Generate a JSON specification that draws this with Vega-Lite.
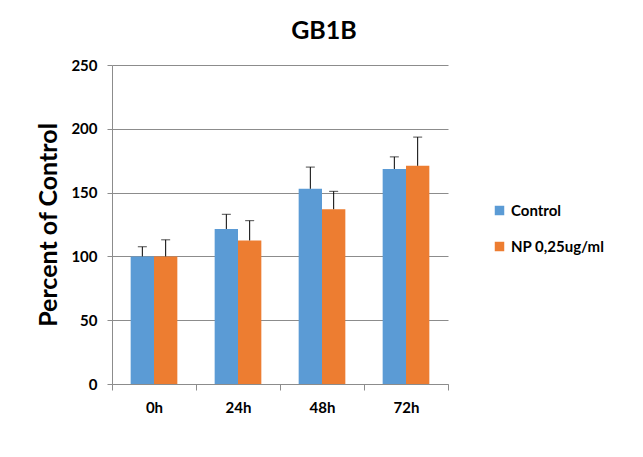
{
  "$schema": "https://vega.github.io/schema/vega-lite/v6.json",
  "width": 336,
  "height": 319,
  "autosize": {"type": "none"},
  "padding": {"left": 112, "top": 65, "right": 195, "bottom": 73},
  "background": "white",
  "title": {
    "text": "GB1B",
    "font": "Lato",
    "fontSize": 25,
    "fontWeight": "bold",
    "color": "#000000",
    "anchor": "middle",
    "dx": 44,
    "offset": 14
  },
  "data": {
    "values": [
      {"time": "0h", "group": "Control", "value": 100, "upper": 107.5},
      {"time": "0h", "group": "NP 0,25ug/ml", "value": 100, "upper": 113},
      {"time": "24h", "group": "Control", "value": 121.5, "upper": 133},
      {"time": "24h", "group": "NP 0,25ug/ml", "value": 112.5, "upper": 128},
      {"time": "48h", "group": "Control", "value": 153, "upper": 170},
      {"time": "48h", "group": "NP 0,25ug/ml", "value": 137, "upper": 151},
      {"time": "72h", "group": "Control", "value": 168.5, "upper": 178},
      {"time": "72h", "group": "NP 0,25ug/ml", "value": 171, "upper": 193.5}
    ]
  },
  "encoding": {
    "x": {
      "field": "time",
      "type": "nominal",
      "sort": ["0h", "24h", "48h", "72h"],
      "scale": {"paddingInner": 0, "paddingOuter": 0},
      "axis": {
        "title": null,
        "labelAngle": 0,
        "labelFont": "Lato",
        "labelFontSize": 15,
        "labelFontWeight": "bold",
        "labelColor": "#000000",
        "labelPadding": 10,
        "tickBand": "extent",
        "tickSize": 6,
        "tickColor": "#8c8c8c",
        "domainColor": "#8c8c8c",
        "grid": false
      }
    },
    "xOffset": {
      "field": "group",
      "type": "nominal",
      "scale": {"paddingInner": 0, "paddingOuter": 0.8}
    },
    "y": {
      "field": "value",
      "type": "quantitative",
      "scale": {"domain": [0, 250], "nice": false, "zero": true},
      "axis": {
        "title": "Percent of Control",
        "titleFont": "Lato",
        "titleFontSize": 25,
        "titleFontWeight": "bold",
        "titleColor": "#000000",
        "titlePadding": 9,
        "values": [0, 50, 100, 150, 200, 250],
        "labelFont": "Lato",
        "labelFontSize": 15,
        "labelFontWeight": "bold",
        "labelColor": "#000000",
        "labelPadding": 10,
        "tickSize": 5,
        "tickColor": "#8c8c8c",
        "domainColor": "#8c8c8c",
        "gridColor": "#8c8c8c",
        "gridWidth": 1
      }
    }
  },
  "layer": [
    {
      "mark": {"type": "bar"},
      "encoding": {
        "color": {
          "field": "group",
          "type": "nominal",
          "scale": {"domain": ["Control", "NP 0,25ug/ml"], "range": ["#5B9BD5", "#ED7D31"]},
          "legend": {
            "title": null,
            "orient": "none",
            "legendX": 380,
            "legendY": 138,
            "symbolType": "square",
            "symbolSize": 90,
            "symbolStrokeWidth": 0,
            "labelFont": "Lato",
            "labelFontSize": 15,
            "labelFontWeight": "bold",
            "labelColor": "#000000",
            "labelOffset": 4,
            "rowPadding": 20
          }
        }
      }
    },
    {
      "mark": {"type": "rule", "color": "#000000", "strokeWidth": 1},
      "encoding": {
        "y2": {"field": "upper"}
      }
    },
    {
      "mark": {"type": "tick", "color": "#000000", "thickness": 1, "size": 9, "orient": "horizontal"},
      "encoding": {
        "y": {"field": "upper", "type": "quantitative"}
      }
    }
  ],
  "config": {
    "view": {"stroke": null}
  }
}
